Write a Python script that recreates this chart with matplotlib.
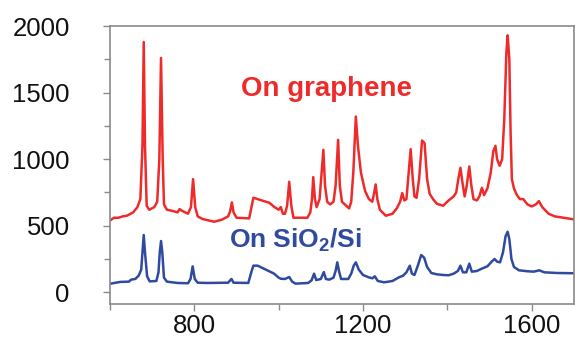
import matplotlib
matplotlib.use("Agg")
import matplotlib.pyplot as plt
from matplotlib.ticker import MultipleLocator

plt.rcParams['font.family'] = ['Liberation Sans', 'DejaVu Sans']
plt.rcParams['mathtext.fontset'] = 'custom'
plt.rcParams['mathtext.rm'] = 'Liberation Sans:bold'
plt.rcParams['mathtext.bf'] = 'Liberation Sans:bold'

# Raman shift (cm^-1) and intensity, on graphene
graphene_x = [600, 610, 620, 630, 640, 655, 665, 672, 677, 680, 683, 687, 693, 705, 712, 717, 721, 725, 728,
              735, 750, 760, 765, 772, 785, 792, 797, 802, 808, 820, 847, 865, 880, 885, 889, 893, 900, 930,
              936, 940, 955, 978, 990, 1000, 1005, 1010, 1015, 1020, 1025, 1030, 1035, 1068, 1075, 1079, 1082,
              1086, 1090, 1097, 1102, 1106, 1110, 1115, 1122, 1130, 1135, 1141, 1145, 1150, 1160, 1167, 1172,
              1177, 1183, 1188, 1195, 1205, 1214, 1222, 1226, 1230, 1234, 1240, 1254, 1270, 1280, 1288, 1293,
              1298, 1303, 1307, 1313, 1318, 1322, 1327, 1333, 1340, 1346, 1352, 1358, 1366, 1375, 1390, 1403,
              1415, 1421, 1426, 1431, 1436, 1441, 1446, 1452, 1457, 1462, 1470, 1476, 1482, 1487, 1495, 1503,
              1509, 1514, 1518, 1524, 1530, 1535, 1540, 1543, 1547, 1550, 1553, 1558, 1565, 1572, 1580, 1590,
              1600, 1610, 1617, 1625, 1640, 1655, 1675, 1700]
graphene_y = [540, 560, 560, 570, 575, 600, 640, 700, 1100, 1880, 1100, 650, 620, 640, 680, 1000, 1760, 1000, 660,
              620, 610, 600, 625, 610, 590, 640, 850, 640, 570, 550, 530, 545, 570, 610, 675, 600, 560, 555,
              650, 710, 695, 672, 640, 620, 640, 590, 590, 650, 830, 650, 560, 560, 600, 700, 865,
              700, 640, 700, 900, 1070, 800, 680, 660, 680, 800, 1145, 800, 680, 650, 630, 680,
              900, 1320, 1100, 900, 760, 700, 680, 740, 810, 700, 620, 575, 590, 630, 680, 745,
              690, 700, 850, 1075, 850, 720, 710, 850, 1140, 1120, 850, 740, 700, 665, 650, 690,
              720, 750, 850, 935, 820, 720, 800, 945, 800, 700, 690, 720, 785, 730, 780, 900,
              1060, 1100, 1000, 950, 1000, 1300, 1800, 1930, 1750, 1200, 850, 780, 730, 700, 700, 660,
              645, 660, 685, 640, 590, 570, 560, 548]

# Raman shift (cm^-1) and intensity, on SiO2/Si
sio2_x = [600, 610, 625, 645, 650, 660, 668, 674, 677, 680, 683, 688, 694, 710, 715, 718, 721, 724, 728, 735,
          760, 785, 791, 796, 801, 808, 830, 880, 888, 893, 928, 935, 940, 950, 960, 973, 989, 1000, 1005, 1015,
          1025, 1032, 1040, 1070, 1078, 1084, 1089, 1100, 1107, 1112, 1120, 1130, 1135, 1139, 1143, 1148, 1165,
          1172, 1178, 1183, 1190, 1200, 1214, 1222, 1228, 1235, 1250, 1270, 1285, 1295, 1303, 1311, 1316, 1322,
          1330, 1338, 1345, 1352, 1362, 1375, 1390, 1403, 1415, 1425, 1431, 1437, 1445, 1452, 1458, 1470, 1482,
          1495, 1505, 1512, 1518, 1525, 1532, 1538, 1543, 1547, 1552, 1558, 1570, 1590, 1605, 1618, 1630, 1660,
          1700]
sio2_y = [64, 70, 78, 80, 95, 100, 125, 170, 300, 430, 300, 120, 82, 85, 150, 300, 385, 300, 110, 80,
          70, 68, 100, 195, 100, 72, 70, 72, 100, 72, 70, 150, 200, 200, 185, 165, 140, 110, 102, 100,
          115, 80, 65, 70, 90, 140, 92, 100, 152, 100, 95, 110, 160, 225, 160, 100, 100,
          140, 200, 225, 170, 130, 112, 105, 120, 85, 75, 85, 112, 125, 150, 200, 140, 130,
          200, 280, 260, 190, 145, 135, 130, 128, 140, 160, 200, 150, 150, 215, 155, 160, 178,
          195, 230, 250, 230, 225, 300, 420, 455, 400, 250, 190, 165, 158, 155, 165, 150, 145,
          143]

x_ticks = [800, 1200, 1600]
y_ticks = [0, 500, 1000, 1500, 2000]

red = '#EE2A2A'
blue = '#2F4A9E'

fig = plt.figure(figsize=(5.75, 3.37), dpi=100)
ax = fig.add_axes([0.1913, 0.0979, 0.8067, 0.8249])

ax.plot(graphene_x, graphene_y, color=red, lw=1.8, solid_joinstyle='round')
ax.plot(sio2_x, sio2_y, color=blue, lw=1.8, solid_joinstyle='round')

ax.set_xlim(600, 1700)
ax.set_ylim(-88, 2000)
ax.set_xticks(x_ticks)
ax.set_yticks(y_ticks)
ax.xaxis.set_minor_locator(MultipleLocator(200))
ax.yaxis.set_minor_locator(MultipleLocator(250))

for s in ax.spines.values():
    s.set_color('#8a8a8a')
    s.set_linewidth(1.2)

ax.tick_params(axis='both', which='both', direction='out', color='#8a8a8a', width=1.0)
ax.tick_params(axis='both', which='major', length=5, labelsize=18.5, labelcolor='#111111')
ax.tick_params(axis='both', which='minor', length=4)
ax.tick_params(axis='y', which='major', pad=24)
ax.tick_params(axis='x', which='major', pad=2)

ax.text(1113, 1528, 'On graphene', color=red, fontsize=20, fontweight='bold',
        ha='center', va='center')
ax.text(1039, 392, r'On SiO$_{2}$/Si', color=blue, fontsize=19, fontweight='bold',
        ha='center', va='center')

fig.savefig('out.png', dpi=100)
